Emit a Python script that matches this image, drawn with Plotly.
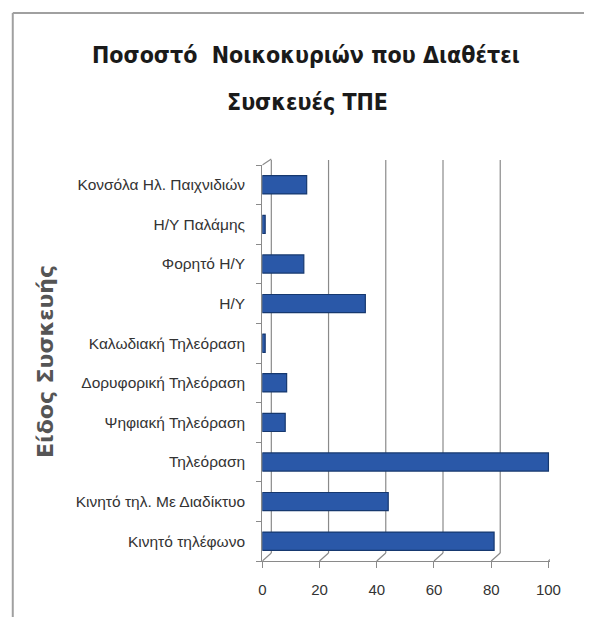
import plotly.graph_objects as go

W, H = 595, 617

categories = [
    "Κινητό τηλέφωνο",
    "Κινητό τηλ. Με Διαδίκτυο",
    "Τηλεόραση",
    "Ψηφιακή Τηλεόραση",
    "Δορυφορική Τηλεόραση",
    "Καλωδιακή Τηλεόραση",
    "Η/Υ",
    "Φορητό Η/Υ",
    "Η/Υ Παλάμης",
    "Κονσόλα Ηλ. Παιχνιδιών",
]
values = [81, 44, 100, 8, 8.5, 1, 36, 14.5, 1, 15.5]
x_ticks = [0, 20, 40, 60, 80, 100]

title_line1 = "Ποσοστό  Νοικοκυριών που Διαθέτει"
title_line2 = "Συσκευές ΤΠΕ"
y_title = "Είδος Συσκευής"

NARROW = "DejaVu Sans Condensed, Arial Narrow, sans-serif"
REG = "Liberation Sans, Arial, sans-serif"
WIDE = "DejaVu Sans, sans-serif"

def px_x(p):
    return p / W

def px_y(p):
    return 1 - p / H

fig = go.Figure()
fig.add_trace(go.Bar(
    y=categories, x=values, orientation="h",
    width=0.46,
    marker=dict(color="#2a58a8", line=dict(color="#16386f", width=1.2)),
    hoverinfo="x+y",
))

shapes = []
bottom_front = px_y(561)
back_top = px_y(160)
for t in x_ticks:
    shapes.append(dict(type="line", xref="x", xsizemode="pixel", xanchor=t, x0=9, x1=9,
                       yref="paper", y0=px_y(553), y1=back_top,
                       line=dict(color="#8a8a8a", width=1.2), layer="below"))
    shapes.append(dict(type="line", xref="x", xsizemode="pixel", xanchor=t, x0=0, x1=9,
                       yref="paper", ysizemode="pixel", yanchor=bottom_front, y0=0, y1=8,
                       line=dict(color="#8a8a8a", width=1.2), layer="below"))
shapes.append(dict(type="line", xref="x", xsizemode="pixel", xanchor=0, x0=0, x1=9,
                   yref="paper", ysizemode="pixel", yanchor=px_y(165), y0=0, y1=6,
                   line=dict(color="#8a8a8a", width=1.2), layer="below"))
shapes.append(dict(type="line", xref="paper", yref="paper", x0=px_x(9), x1=px_x(9),
                   y0=px_y(13), y1=0, line=dict(color="#a0a0a0", width=2)))
shapes.append(dict(type="line", xref="paper", yref="paper", x0=px_x(9), x1=1,
                   y0=px_y(13), y1=px_y(13), line=dict(color="#a0a0a0", width=2)))

annotations = [
    dict(text="<b>%s</b>" % title_line1, x=px_x(310), y=px_y(55), xref="paper", yref="paper",
         xanchor="center", yanchor="middle",
         showarrow=False, font=dict(family=NARROW, size=23, color="#1a1a1a")),
    dict(text="<b>%s</b>" % title_line2, x=px_x(311), y=px_y(102), xref="paper", yref="paper",
         xanchor="center", yanchor="middle",
         showarrow=False, font=dict(family=NARROW, size=23, color="#1a1a1a")),
    dict(text="<b>%s</b>" % y_title, x=px_x(42), y=px_y(361), xref="paper", yref="paper",
         xanchor="center", yanchor="middle",
         showarrow=False, textangle=-90, font=dict(family=WIDE, size=22, color="#555555")),
]

fig.update_layout(
    width=W, height=H,
    margin=dict(l=0, r=0, t=0, b=0),
    paper_bgcolor="white", plot_bgcolor="rgba(0,0,0,0)",
    showlegend=False,
    xaxis=dict(
        domain=[px_x(265), px_x(560)], range=[0, 100.5],
        tickvals=x_ticks, ticktext=[str(t) for t in x_ticks],
        showgrid=False, zeroline=False,
        showline=True, linecolor="#8a8a8a", linewidth=1.2,
        ticks="outside", ticklen=6, tickcolor="#8a8a8a",
        ticklabelstandoff=9,
        tickfont=dict(family=REG, size=15, color="#333333"),
    ),
    yaxis=dict(
        domain=[px_y(561), px_y(165)],
        type="category", categoryorder="array", categoryarray=categories,
        showgrid=False, zeroline=False,
        showline=True, linecolor="#8a8a8a", linewidth=1.2,
        ticks="outside", ticklen=5, tickcolor="#8a8a8a", tickson="boundaries",
        ticklabelstandoff=13,
        tickfont=dict(family=REG, size=15.5, color="#333333"),
    ),
    shapes=shapes,
    annotations=annotations,
)

fig.write_html(
    "out.html",
    config={"displayModeBar": False},
    post_script=(
        "document.documentElement.style.margin='0';"
        "document.documentElement.style.overflow='hidden';"
        "document.body.style.margin='0';"
        "document.body.style.overflow='hidden';"
    ),
)
